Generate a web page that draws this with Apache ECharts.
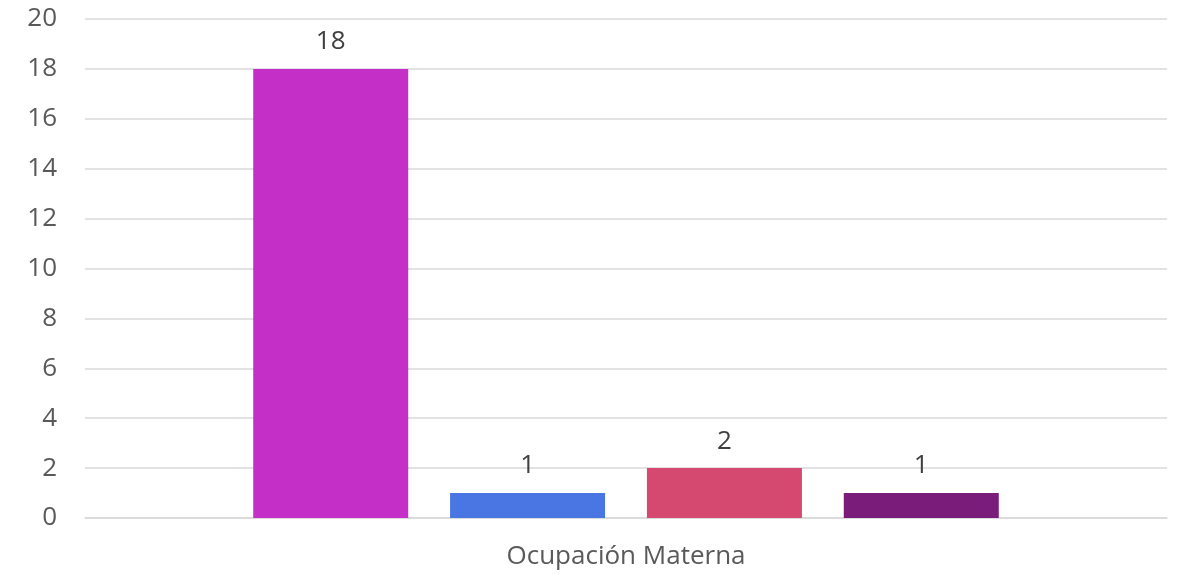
<!DOCTYPE html>
<html>
<head>
<meta charset="utf-8">
<style>
  html, body { margin: 0; padding: 0; background: #fff; }
  #chart { width: 1178px; height: 577px; }
</style>
<script src="https://cdn.jsdelivr.net/npm/echarts@6/dist/echarts.min.js"></script>
</head>
<body>
<div id="chart"></div>
<script>
// datos del gráfico
var categorias = ['Ocupación Materna'];
var seriesNombres = ['Serie 1', 'Serie 2', 'Serie 3', 'Serie 4'];
var valores = [18, 1, 2, 1];
var colores = ['#C42FC8', '#4A76E4', '#D54870', '#7A1C79'];
var yMin = 0, yMax = 20, yPaso = 2;

var fuente = '"Open Sans", "Liberation Sans", sans-serif';

function crearSeries()
{
    var lista = [];
    for (var i = 0; i < valores.length; i++) {
        lista.push({
            name : seriesNombres[i],
            type : 'bar',
            data : [valores[i]],
            barWidth : 155,
            barGap : '27%',
            itemStyle : { color: colores[i] },
            label : {
                show : true,
                position : 'top',
                distance : 14,
                color : '#404040',
                fontSize : 26,
                fontFamily : fuente
            }
        });
    }
    return lista;
}

var myChart = echarts.init(document.getElementById('chart'));
var options =
{
    backgroundColor : '#fff',
    animation : false,
    grid : {
        left : 85,
        right : 11,
        top : 19,
        bottom : 59,
        containLabel : false
    },
    xAxis : {
        type : 'category',
        data : categorias,
        axisLine : { show: true, lineStyle: { color: '#D9D9D9', width: 1.5 } },
        axisTick : { show: false },
        axisLabel : {
            color : '#595959',
            fontSize : 26,
            fontFamily : fuente,
            margin : 26
        }
    },
    yAxis : {
        type : 'value',
        min : yMin,
        max : yMax,
        interval : yPaso,
        axisLine : { show: false },
        axisTick : { show: false },
        axisLabel : {
            color : '#595959',
            fontSize : 26,
            fontFamily : fuente,
            margin : 28
        },
        splitLine : { lineStyle: { color: '#D9D9D9', width: 1.5 } }
    },
    series : crearSeries()
};
myChart.setOption(options);
</script>
</body>
</html>
